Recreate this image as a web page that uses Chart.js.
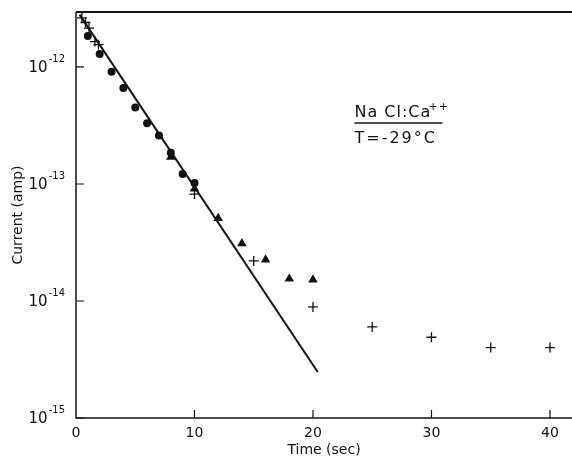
<!DOCTYPE html>
<html lang="en">
<head>
<meta charset="UTF-8">
<title>NaCl:Ca++ current decay</title>
<script src="https://cdn.jsdelivr.net/npm/chart.js@4.4.1/dist/chart.umd.min.js"></script>
<style>
  html, body { margin: 0; padding: 0; background: #fff; }
</style>
</head>
<body>
<canvas id="decayChart" width="572" height="463"></canvas>
<script>
    // values (time in sec, current in amp)
    const circleTimes = [1, 2, 3, 4, 5, 6, 7, 8, 9, 10];
    const circleCurrent = [1.84e-12, 1.29e-12, 9.1e-13, 6.6e-13, 4.5e-13, 3.3e-13, 2.6e-13, 1.85e-13, 1.22e-13, 1.02e-13];

    const triangleTimes = [8, 10, 12, 14, 16, 18, 20];
    const triangleCurrent = [1.7e-13, 9.1e-14, 5.1e-14, 3.1e-14, 2.25e-14, 1.55e-14, 1.52e-14];

    const crossTimes = [0.5, 0.8, 1.1, 1.6, 1.9, 10, 15, 20, 25, 30, 35, 40];
    const crossCurrent = [2.63e-12, 2.4e-12, 2.15e-12, 1.65e-12, 1.55e-12, 8.2e-14, 2.2e-14, 8.9e-15, 6.0e-15, 4.9e-15, 4.0e-15, 4.0e-15];

    const fitTimes = [0.3, 20.4];
    const fitCurrent = [2.8e-12, 2.47e-15];

    const xTicks = [0, 10, 20, 30, 40];
    const yTicks = [1e-15, 1e-14, 1e-13, 1e-12];
    const yTickExponents = ['-15', '-14', '-13', '-12'];

    const pairs = (xs, ys) => xs.map((t, i) => ({ x: t, y: ys[i] }));

    // frame, inward tick marks, 10^n labels and the sample note
    const frameAndNote = {
        id: 'frameAndNote',
        afterDatasetsDraw(chart) {
            const { ctx, chartArea: a, scales: { x, y } } = chart;
            ctx.save();
            ctx.strokeStyle = '#141414';
            ctx.lineWidth = 1.5;
            ctx.beginPath();
            ctx.moveTo(a.left, a.top);
            ctx.lineTo(a.left, a.bottom);
            ctx.lineTo(a.right, a.bottom);
            ctx.stroke();
            ctx.lineWidth = 2;
            ctx.beginPath();
            ctx.moveTo(a.left, a.top);
            ctx.lineTo(a.right, a.top);
            ctx.stroke();

            ctx.lineWidth = 1.2;
            ctx.beginPath();
            yTicks.forEach(v => {
                const py = y.getPixelForValue(v);
                ctx.moveTo(a.left, py);
                ctx.lineTo(a.left + 8, py);
            });
            xTicks.slice(1).forEach(v => {
                const px = x.getPixelForValue(v);
                ctx.moveTo(px, a.bottom);
                ctx.lineTo(px, a.bottom - 8);
            });
            ctx.stroke();

            // y labels: 10 with a raised exponent
            ctx.fillStyle = '#111';
            ctx.textBaseline = 'middle';
            yTicks.forEach((v, i) => {
                const py = y.getPixelForValue(v);
                ctx.font = '10px "DejaVu Sans"';
                ctx.textAlign = 'right';
                ctx.fillText(yTickExponents[i], a.left - 11, py - 8);
                const ew = ctx.measureText(yTickExponents[i]).width;
                ctx.font = '15px "DejaVu Sans"';
                ctx.fillText('10', a.left - 12 - ew, py + 1);
            });

            // Na Cl:Ca++ / T = -29 C
            const nx = x.getPixelForValue(23.5);
            ctx.textBaseline = 'alphabetic';
            ctx.textAlign = 'left';
            ctx.font = '16px "DejaVu Sans"';
            ctx.letterSpacing = '1px';
            ctx.fillText('Na Cl:Ca', nx, 117);
            ctx.font = '11px "DejaVu Sans"';
            ctx.fillText('++', nx + 74, 110);
            ctx.font = '16px "DejaVu Sans"';
            ctx.letterSpacing = '2px';
            ctx.fillText('T=-29\u00B0C', nx, 143);
            ctx.lineWidth = 1.6;
            ctx.beginPath();
            ctx.moveTo(nx, 123);
            ctx.lineTo(nx + 88, 123);
            ctx.stroke();
            ctx.restore();
        }
    };

    const ctx = document.getElementById('decayChart').getContext('2d');
    new Chart(ctx, {
        type: 'scatter',
        data: {
            datasets: [
                {
                    label: 'fit',
                    data: pairs(fitTimes, fitCurrent),
                    showLine: true,
                    borderColor: '#111',
                    borderWidth: 2,
                    pointRadius: 0
                },
                {
                    label: 'circles',
                    data: pairs(circleTimes, circleCurrent),
                    pointStyle: 'circle',
                    pointRadius: 4,
                    backgroundColor: '#111',
                    borderColor: '#111',
                    borderWidth: 0
                },
                {
                    label: 'triangles',
                    data: pairs(triangleTimes, triangleCurrent),
                    pointStyle: 'triangle',
                    pointRadius: 5.5,
                    backgroundColor: '#111',
                    borderColor: '#111',
                    borderWidth: 0
                },
                {
                    label: 'crosses',
                    data: pairs(crossTimes, crossCurrent),
                    pointStyle: 'cross',
                    pointRadius: 5,
                    borderColor: '#111',
                    borderWidth: 1.3
                }
            ]
        },
        options: {
            responsive: false,
            animation: false,
            layout: { autoPadding: false, padding: { top: 12, right: 0, left: 0, bottom: 0 } },
            plugins: { legend: { display: false }, tooltip: { enabled: false } },
            scales: {
                x: {
                    type: 'linear',
                    min: 0,
                    max: 41.86,
                    afterBuildTicks: scale => { scale.ticks = xTicks.map(v => ({ value: v })); },
                    afterFit: scale => {
                        scale.height = 45;
                        scale.paddingLeft = 0;
                        scale.paddingRight = 0;
                    },
                    grid: { display: false, drawTicks: false },
                    border: { display: false },
                    ticks: {
                        color: '#111',
                        padding: 7,
                        maxRotation: 0,
                        font: { family: 'DejaVu Sans', size: 14 }
                    },
                    title: {
                        display: true,
                        text: 'Time (sec)',
                        color: '#111',
                        padding: { top: 0, bottom: 4 },
                        font: { family: 'DejaVu Sans', size: 14 }
                    }
                },
                y: {
                    type: 'logarithmic',
                    min: 1e-15,
                    max: 2.95e-12,
                    afterBuildTicks: scale => { scale.ticks = yTicks.map(v => ({ value: v })); },
                    afterFit: scale => {
                        scale.width = 76;
                        scale.paddingTop = 0;
                        scale.paddingBottom = 0;
                    },
                    grid: { display: false, drawTicks: false },
                    border: { display: false },
                    ticks: { display: false },
                    title: {
                        display: true,
                        text: 'Current (amp)',
                        color: '#111',
                        padding: { top: 10, bottom: 0 },
                        font: { family: 'DejaVu Sans', size: 14 }
                    }
                }
            }
        },
        plugins: [frameAndNote]
    });
</script>
</body>
</html>
